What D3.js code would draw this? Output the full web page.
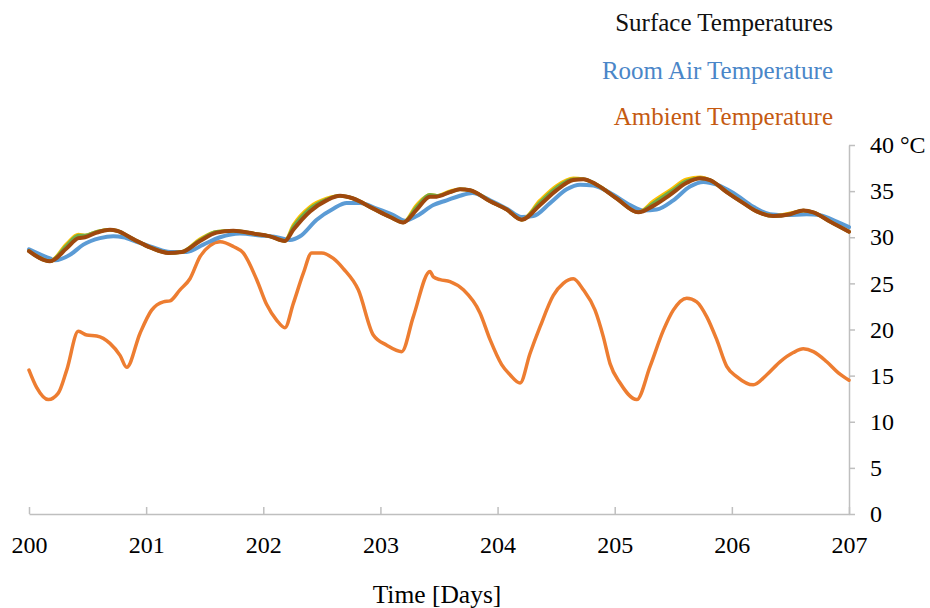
<!DOCTYPE html>
<html>
<head>
<meta charset="utf-8">
<script src="https://cdn.jsdelivr.net/npm/d3@7"></script>
<style>
  body { margin: 0; background: #fff; }
  svg { display: block; font-family: "Liberation Serif", "Times New Roman", serif; }
</style>
</head>
<body>
<svg id="chart" width="930" height="608"></svg>
<script>
// ambient (outdoor) air temperature
const ambientDays = [200.000, 200.066, 200.165, 200.250, 200.322, 200.421, 200.493, 200.578, 200.691, 200.777,
  200.834, 200.948, 201.047, 201.147, 201.204, 201.289, 201.374, 201.460, 201.545, 201.631,
  201.744, 201.829, 201.944, 202.029, 202.115, 202.185, 202.256, 202.342, 202.413, 202.499,
  202.598, 202.683, 202.811, 202.939, 203.054, 203.182, 203.281, 203.423, 203.452, 203.509,
  203.594, 203.708, 203.850, 203.936, 204.035, 204.106, 204.192, 204.277, 204.363, 204.476,
  204.561, 204.647, 204.732, 204.832, 204.903, 204.960, 205.046, 205.188, 205.302, 205.415,
  205.500, 205.615, 205.700, 205.785, 205.871, 205.956, 206.041, 206.183, 206.298, 206.411,
  206.525, 206.610, 206.696, 206.810, 206.909, 207.000];
const ambientTemp = [15.6, 13.7, 12.4, 13.1, 15.6, 19.8, 19.4, 19.3, 18.5, 17.2,
  15.9, 19.6, 22.1, 23.0, 23.1, 24.3, 25.5, 27.9, 29.1, 29.5,
  29.0, 28.3, 25.4, 22.7, 21.0, 20.2, 22.8, 26.1, 28.3, 28.3,
  27.7, 26.6, 24.3, 19.4, 18.3, 17.6, 21.4, 26.3, 25.7, 25.4,
  25.2, 24.3, 21.8, 18.9, 16.2, 15.1, 14.2, 17.4, 20.3, 23.7,
  25.0, 25.5, 24.3, 22.1, 19.2, 16.3, 14.2, 12.4, 16.0, 19.9,
  22.1, 23.4, 23.0, 21.4, 18.9, 16.0, 14.9, 14.0, 15.1, 16.5,
  17.5, 17.9, 17.6, 16.5, 15.3, 14.5];

// room air temperature
const roomDays = [200.000, 200.179, 200.222, 200.350, 200.464, 200.606, 200.720, 200.805, 200.919, 201.061,
  201.204, 201.346, 201.488, 201.631, 201.801, 201.972, 202.115, 202.228, 202.314, 202.456,
  202.598, 202.712, 202.826, 202.968, 203.110, 203.210, 203.310, 203.452, 203.566, 203.679,
  203.785, 203.936, 204.078, 204.206, 204.306, 204.448, 204.590, 204.705, 204.818, 204.989,
  205.131, 205.244, 205.358, 205.500, 205.643, 205.757, 205.871, 206.013, 206.183, 206.326,
  206.468, 206.639, 206.752, 206.895, 207.000];
const roomTemp = [28.7, 27.7, 27.5, 28.1, 29.2, 29.9, 30.1, 30.0, 29.5, 28.9,
  28.4, 28.4, 29.2, 30.0, 30.4, 30.2, 30.0, 29.7, 30.1, 31.9,
  33.1, 33.7, 33.7, 33.1, 32.4, 31.8, 32.3, 33.5, 34.0, 34.5,
  34.8, 34.0, 33.1, 32.2, 32.3, 33.7, 35.2, 35.7, 35.6, 34.6,
  33.5, 32.9, 33.0, 34.0, 35.5, 36.0, 35.7, 34.8, 33.3, 32.5,
  32.4, 32.5, 32.4, 31.7, 31.1];

// surface temperatures (several surfaces, mostly overlapping)
const surfaceDays = [200.000, 200.179, 200.322, 200.421, 200.478, 200.578, 200.691, 200.749, 200.890, 201.033,
  201.189, 201.304, 201.460, 201.602, 201.744, 201.915, 202.057, 202.185, 202.256, 202.399,
  202.541, 202.655, 202.768, 202.939, 203.082, 203.195, 203.310, 203.423, 203.480, 203.594,
  203.679, 203.765, 203.936, 204.078, 204.206, 204.363, 204.505, 204.647, 204.732, 204.846,
  205.017, 205.201, 205.329, 205.472, 205.615, 205.729, 205.814, 205.956, 206.098, 206.212,
  206.354, 206.496, 206.610, 206.696, 206.837, 207.000];
const surfaceYellow = [28.5, 27.4, 29.3, 30.3, 30.2, 30.6, 30.8, 30.7, 29.8, 28.9,
  28.3, 28.4, 29.8, 30.6, 30.7, 30.4, 30.1, 29.6, 31.3, 33.3,
  34.2, 34.5, 34.2, 33.1, 32.2, 31.6, 33.5, 34.6, 34.5, 35.0,
  35.2, 35.1, 33.9, 33.0, 31.9, 34.0, 35.6, 36.4, 36.3, 35.7,
  34.2, 32.7, 33.9, 35.1, 36.3, 36.5, 36.2, 34.9, 33.7, 32.8,
  32.3, 32.6, 32.9, 32.7, 31.7, 30.6];
const surfaceGreen = [28.5, 27.4, 29.1, 30.2, 30.2, 30.6, 30.8, 30.7, 29.8, 28.9,
  28.3, 28.4, 29.7, 30.6, 30.7, 30.4, 30.1, 29.6, 31.1, 33.1,
  34.1, 34.5, 34.2, 33.1, 32.2, 31.6, 33.3, 34.6, 34.5, 34.9,
  35.2, 35.1, 33.9, 33.0, 31.9, 33.8, 35.4, 36.3, 36.3, 35.7,
  34.2, 32.7, 33.7, 34.9, 36.1, 36.4, 36.2, 34.9, 33.7, 32.8,
  32.3, 32.5, 32.9, 32.7, 31.7, 30.6];
const surfaceBrown = [28.5, 27.4, 28.8, 29.9, 30.0, 30.5, 30.8, 30.7, 29.8, 28.9,
  28.3, 28.4, 29.6, 30.5, 30.7, 30.4, 30.1, 29.6, 30.8, 32.8,
  34.0, 34.5, 34.2, 33.1, 32.2, 31.6, 33.0, 34.4, 34.4, 34.9,
  35.2, 35.1, 33.9, 33.0, 31.9, 33.5, 35.1, 36.2, 36.3, 35.7,
  34.2, 32.7, 33.4, 34.6, 35.9, 36.4, 36.2, 34.9, 33.7, 32.8,
  32.3, 32.5, 32.9, 32.7, 31.7, 30.6];

const dayTicks = [200, 201, 202, 203, 204, 205, 206, 207];
const tempTicks = [0, 5, 10, 15, 20, 25, 30, 35, 40];

const legendLabels = ["Surface Temperatures", "Room Air Temperature", "Ambient Temperature"];
const legendColors = ["#111111", "#4a86c8", "#c55a11"];

const svg = d3.select("#chart");

const x = d3.scaleLinear().domain([200, 207]).range([29, 849]);
const y = d3.scaleLinear().domain([0, 40]).range([514, 145]);

const axisColor = "#bfbfbf";

// x axis, ticks pointing up into the plot
const xAxis = svg.append("g")
    .attr("transform", "translate(0,514)")
    .call(d3.axisBottom(x).tickValues(dayTicks).tickFormat(d3.format("d"))
        .tickSizeInner(-7).tickSizeOuter(0).tickPadding(22));
xAxis.select(".domain").attr("stroke", axisColor).attr("stroke-width", 1.5);
xAxis.selectAll(".tick line").attr("stroke", axisColor).attr("stroke-width", 1.5);
xAxis.selectAll(".tick text")
    .attr("fill", "#000")
    .style("font-size", "24px")
    .style("font-family", "Liberation Serif, serif");

// y axis on the right
const yAxis = svg.append("g")
    .attr("transform", "translate(849,0)")
    .call(d3.axisRight(y).tickValues(tempTicks)
        .tickFormat(d => d === 40 ? "40 °C" : d)
        .tickSizeInner(6).tickSizeOuter(0).tickPadding(15));
yAxis.select(".domain").attr("stroke", axisColor).attr("stroke-width", 1.5);
yAxis.selectAll(".tick line").attr("stroke", axisColor).attr("stroke-width", 1.5);
yAxis.selectAll(".tick text")
    .attr("fill", "#000")
    .style("font-size", "24px")
    .style("font-family", "Liberation Serif, serif");

const line = d3.line()
    .x(d => x(d[0]))
    .y(d => y(d[1]))
    .curve(d3.curveMonotoneX);

function drawSeries(days, temps, color, width) {
    svg.append("path")
        .datum(days.map((d, i) => [d, temps[i]]))
        .attr("fill", "none")
        .attr("stroke", color)
        .attr("stroke-width", width)
        .attr("stroke-linejoin", "round")
        .attr("stroke-linecap", "round")
        .attr("d", line);
}

drawSeries(ambientDays, ambientTemp, "#ed7d31", 3.5);
drawSeries(roomDays, roomTemp, "#5b9bd5", 4);
drawSeries(surfaceDays, surfaceYellow, "#ffc000", 3.5);
drawSeries(surfaceDays, surfaceGreen, "#70ad47", 3.5);
drawSeries(surfaceDays, surfaceBrown, "#9e480e", 4);

// legend as coloured text, right aligned
const legendY = [31, 79, 125];
svg.selectAll(".legend")
    .data(legendLabels)
    .join("text")
    .attr("class", "legend")
    .attr("x", 833)
    .attr("y", (d, i) => legendY[i])
    .attr("text-anchor", "end")
    .attr("fill", (d, i) => legendColors[i])
    .style("font-size", "25px")
    .text(d => d);

// axis title
svg.append("text")
    .attr("x", 437)
    .attr("y", 603)
    .attr("text-anchor", "middle")
    .attr("fill", "#000")
    .style("font-size", "25.5px")
    .text("Time [Days]");
</script>
</body>
</html>
